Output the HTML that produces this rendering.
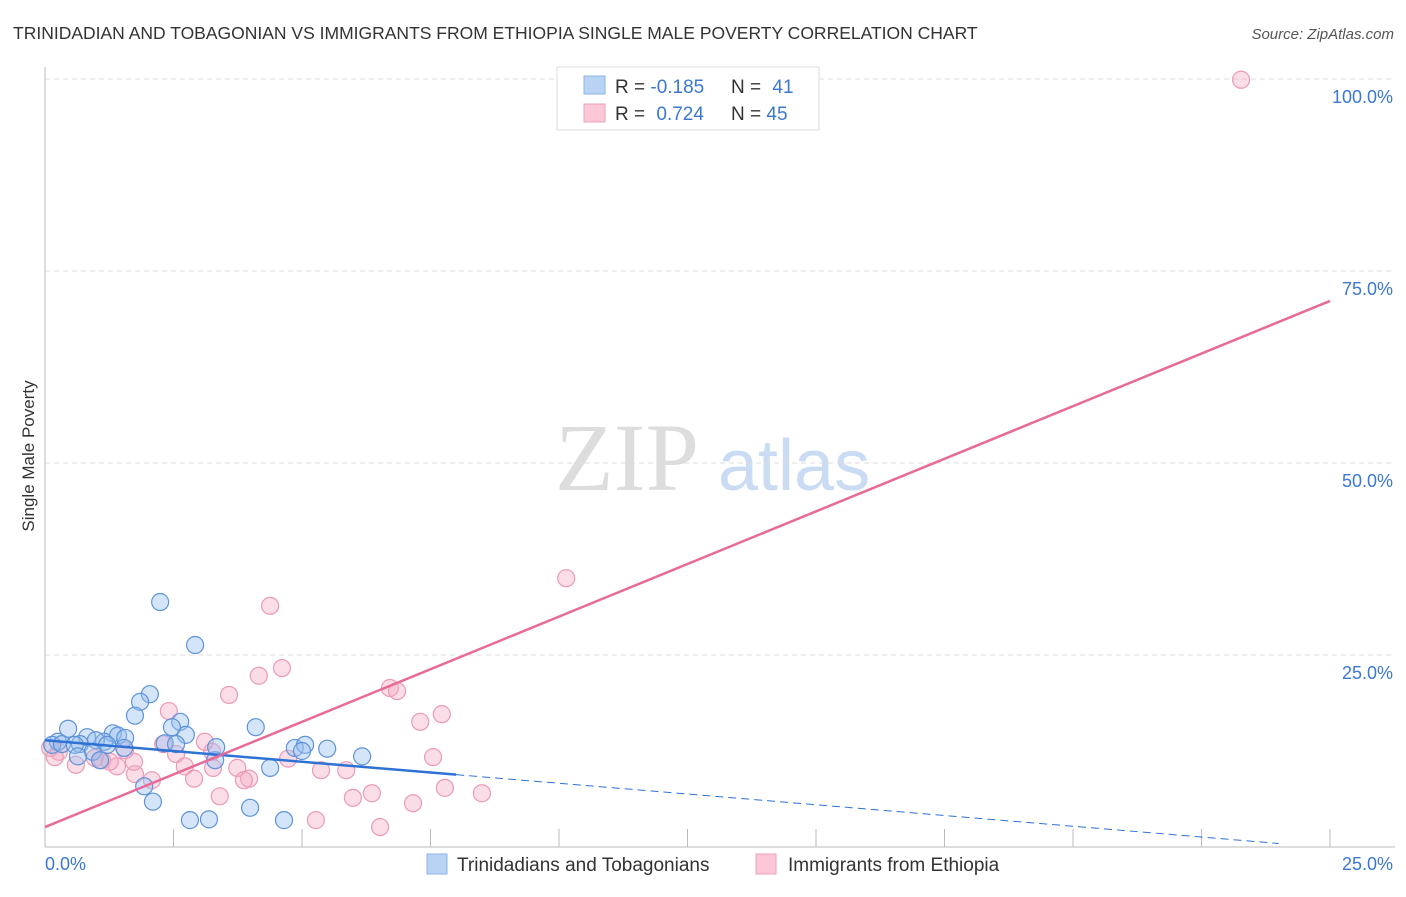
<!DOCTYPE html>
<html><head><meta charset="utf-8"><style>
body{margin:0;background:#fff;font-family:"Liberation Sans",sans-serif;}
svg text{font-family:"Liberation Sans",sans-serif;}
</style></head><body>
<svg id="chart" width="1406" height="892" xmlns="http://www.w3.org/2000/svg">
<text x="13" y="39" font-size="17.5" fill="#333">TRINIDADIAN AND TOBAGONIAN VS IMMIGRANTS FROM ETHIOPIA SINGLE MALE POVERTY CORRELATION CHART</text>
<text x="1394" y="39" font-size="15" fill="#555" font-style="italic" text-anchor="end">Source: ZipAtlas.com</text>
<text x="555" y="490" font-size="96" fill="#ddd" font-family="Liberation Serif,serif" style="font-family:'Liberation Serif',serif">ZIP</text>
<text x="718" y="490" font-size="72" fill="#c9dcf3">atlas</text>
<g id="grid"></g>
<g id="axes"></g>
<g id="pts"></g>
<g id="lines"></g>
<text transform="translate(34,456) rotate(-90)" font-size="17" fill="#333" text-anchor="middle">Single Male Poverty</text>
<g>
<rect x="557" y="67" width="262" height="63" fill="#fff" stroke="#ddd"/>
<rect x="584" y="76" width="21" height="18" fill="#b9d3f5" stroke="#8db3e8"/>
<rect x="584" y="104" width="21" height="18" fill="#fcc8d8" stroke="#f0a0bb"/>
<text x="615" y="93" font-size="19" fill="#333">R = <tspan fill="#3b78d0">-0.185</tspan></text>
<text x="731" y="93" font-size="19" fill="#333">N = <tspan fill="#3b78d0" dx="6">41</tspan></text>
<text x="615" y="120" font-size="19" fill="#333">R = <tspan fill="#3b78d0" dx="6">0.724</tspan></text>
<text x="731" y="120" font-size="19" fill="#333">N = <tspan fill="#3b78d0">45</tspan></text>
</g>
<g>
<rect x="427" y="854" width="20" height="20" fill="#b9d3f5" stroke="#8db3e8"/>
<text x="457" y="871" font-size="19" fill="#333">Trinidadians and Tobagonians</text>
<rect x="756" y="854" width="20" height="20" fill="#fcc8d8" stroke="#f0a0bb"/>
<text x="788" y="871" font-size="19" fill="#333">Immigrants from Ethiopia</text>
</g>
</svg>
<script>
const yTicks=[25,50,75,100];
const yTickLabels=["25.0%","50.0%","75.0%","100.0%"];
const xTickLabels=["0.0%","25.0%"];
const blueX=[2.24,2.92,2.04,1.85,1.75,0.45,0.82,1.32,1.42,1.56,2.63,2.74,2.47,2.33,2.55,1.15,0.99,0.25,0.14,0.33,0.68,1.21,0.58,1.54,0.93,1.07,0.64,3.31,3.33,4.10,4.86,5.06,5.00,5.49,6.17,1.93,2.10,4.38,2.82,3.19,3.99,4.65];
const blueY=[31.9,26.3,19.9,18.9,17.1,15.4,14.3,14.8,14.5,14.2,16.3,14.6,15.6,13.5,13.4,13.7,13.9,13.7,13.3,13.4,13.4,13.3,13.3,12.9,12.4,11.3,11.8,11.3,13.0,15.6,12.9,13.3,12.5,12.8,11.8,7.9,5.9,10.3,3.5,3.6,5.1,3.5];
const pinkX=[23.27,10.14,4.38,4.61,4.16,3.58,2.41,6.71,6.85,7.30,7.72,7.55,2.30,3.25,2.55,2.72,4.73,5.37,5.86,3.74,3.97,3.27,2.90,2.08,1.75,1.40,1.11,0.60,0.27,0.10,0.19,0.97,1.26,1.73,3.40,3.87,5.99,6.36,7.16,7.78,8.50,5.27,6.52,3.11,1.56];
const pinkY=[99.9,35.0,31.4,23.3,22.3,19.8,17.7,20.7,20.3,16.3,17.3,11.7,13.4,12.4,12.1,10.5,11.5,10.0,10.0,10.3,8.9,10.3,8.9,8.7,9.5,10.5,11.3,10.7,12.4,12.9,11.7,11.6,11.1,11.1,6.6,8.7,6.4,7.0,5.7,7.7,7.0,3.5,2.6,13.7,12.6];
const blueTrend=[13.9,-0.56]; // intercept, slope per %
const blueSolidEnd=8.0, blueDashEnd=24.0;
const pinkTrend=[2.6,2.74];
const pinkEnd=25.0;

const NS="http://www.w3.org/2000/svg";
const X=v=>45+v*51.4, Y=v=>847-v*7.68;
function mk(tag,attrs,parent){const e=document.createElementNS(NS,tag);for(const k in attrs)e.setAttribute(k,attrs[k]);parent.appendChild(e);return e;}
const grid=document.getElementById('grid'),axes=document.getElementById('axes'),pts=document.getElementById('pts'),lines=document.getElementById('lines');
yTicks.forEach((t,i)=>{
 const l=mk('line',{x1:45,x2:1395,y1:Y(t),y2:Y(t),stroke:'#ddd','stroke-dasharray':'5,4'},grid);
 
 
 const tx=mk('text',{x:1393,y:Y(t)+24,'font-size':18,fill:'#3b78d0','text-anchor':'end'},axes);
 tx.textContent=yTickLabels[i];
 
 
});
const la=mk('line',{x1:45,x2:45,y1:67,y2:847,stroke:'#bbb'},axes);


const ba=mk('line',{x1:45,x2:1395,y1:847,y2:847,stroke:'#bbb'},axes);


for(let i=1;i<=10;i++){
 const t=mk('line',{x1:X(i*2.5),x2:X(i*2.5),y1:829,y2:847,stroke:'#bbb'},axes);
 
 
}
[[0,'start',45],[25,'end',1393]].forEach((d,i)=>{
 const tx=mk('text',{x:d[2],y:870,'font-size':18,fill:'#3b78d0','text-anchor':d[1]},axes);
 tx.textContent=xTickLabels[i];
 
 
});
pinkX.forEach((x,i)=>{
 const c=mk('circle',{cx:X(x),cy:Y(pinkY[i]),r:8.5,fill:'rgba(246,170,196,0.4)',stroke:'#eb9ab5','stroke-width':1.2},pts);
 
 
});
blueX.forEach((x,i)=>{
 const c=mk('circle',{cx:X(x),cy:Y(blueY[i]),r:8.5,fill:'rgba(150,190,240,0.4)',stroke:'#5e93da','stroke-width':1.2},pts);
 
 
});
const bt=v=>blueTrend[0]+blueTrend[1]*v, pt=v=>pinkTrend[0]+pinkTrend[1]*v;
const l1=mk('line',{x1:X(0),y1:Y(bt(0)),x2:X(blueSolidEnd),y2:Y(bt(blueSolidEnd)),stroke:'#2f72d6','stroke-width':2.5},lines);


const l2=mk('line',{x1:X(blueSolidEnd),y1:Y(bt(blueSolidEnd)),x2:X(blueDashEnd),y2:Y(bt(blueDashEnd)),stroke:'#2f72d6','stroke-width':1,'stroke-dasharray':'8,5'},lines);


const l3=mk('line',{x1:X(0),y1:Y(pt(0)),x2:X(pinkEnd),y2:Y(pt(pinkEnd)),stroke:'#e86b97','stroke-width':2.5},lines);


</script>
</body></html>
